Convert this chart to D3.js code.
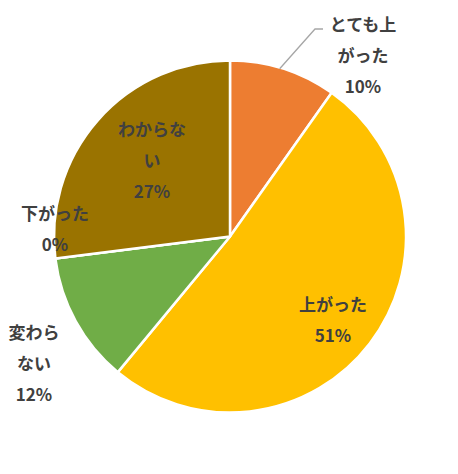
<!DOCTYPE html>
<html><head><meta charset="utf-8">
<script src="https://cdn.jsdelivr.net/npm/d3@7"></script>
<style>body{margin:0;background:#fff}</style>
</head><body>
<svg id="c" width="458" height="474"></svg>
<script>
const categories = ["とても上がった", "上がった", "変わらない", "下がった", "わからない"];
const values = [9.8, 51.2, 12, 0, 27];
const pctLabels = ["10%", "51%", "12%", "0%", "27%"];
const labelLines = [["とても上", "がった"], ["上がった"], ["変わら", "ない"], ["下がった"], ["わからな", "い"]];
const colors = ["#ED7D31", "#FFC000", "#70AD47", "#A5A5A5", "#9A7300"];
const labelPos = [[363, 25], [333, 305], [34, 333], [55, 214], [152, 130]];

const svg = d3.select("#c");
const cx = 230, cy = 236.5, r = 176;
const g = svg.append("g").attr("transform", `translate(${cx},${cy})`);
const pie = d3.pie().sort(null).value(d => d)(values);
const arc = d3.arc().innerRadius(0).outerRadius(r);
g.selectAll("path").data(pie).join("path")
  .attr("d", arc)
  .attr("fill", (d, i) => colors[i])
  .attr("stroke", "#fff").attr("stroke-width", 2.5).attr("stroke-linejoin", "round");

// leader line for first slice
const a0 = (pie[0].startAngle + pie[0].endAngle) / 2 - 0.02;
const p0 = [Math.sin(a0) * (r - 1) + cx, -Math.cos(a0) * (r - 1) + cy];
svg.append("polyline")
  .attr("points", `${p0[0]},${p0[1]} 315,29 323,29`)
  .attr("fill", "none").attr("stroke", "#A6A6A6").attr("stroke-width", 1.3);

const lh = 31;
categories.forEach((c, i) => {
  const [x, y] = labelPos[i];
  const lines = labelLines[i].concat([pctLabels[i]]);
  const t = svg.append("text")
    .attr("text-anchor", "middle")
    .attr("font-family", "'Noto Sans CJK JP', sans-serif")
    .attr("font-weight", "bold").attr("font-size", 17)
    .attr("fill", "#404040");
  lines.forEach((l, j) => {
    t.append("tspan").attr("x", x).attr("y", y + j * lh).attr("dy", "0.35em").text(l);
  });
});
</script>
</body></html>
